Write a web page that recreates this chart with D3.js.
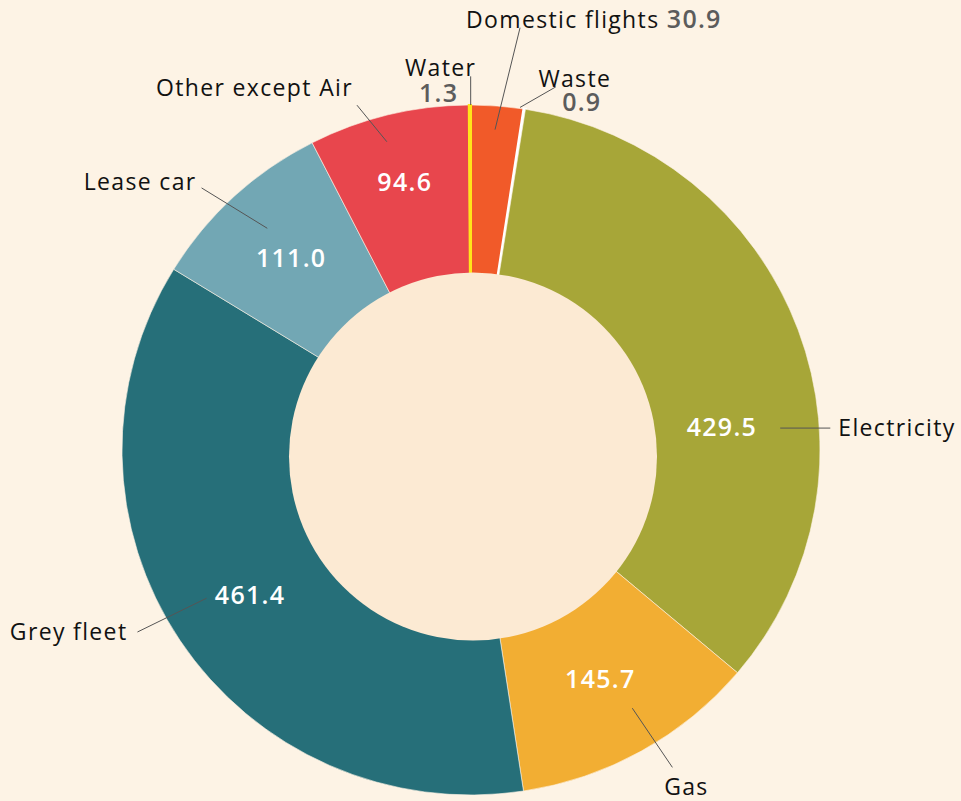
<!DOCTYPE html>
<html lang="en">
<head>
    <meta charset="UTF-8">
    <title>Emissions by source</title>
    <script src="https://d3js.org/d3.v7.min.js"></script>
    <style>
        html, body { margin: 0; padding: 0; background: #fdf3e5; }
        #chart { width: 961px; height: 801px; }
        .cat { font-family: "Open Sans", sans-serif; font-size: 23px; fill: #111; letter-spacing: 1.35px; }
        .val { font-family: "Open Sans", sans-serif; font-size: 25px; font-weight: 600; letter-spacing: 1.3px; }
    </style>
</head>
<body>
<div id="chart"></div>
<script>
// slices, clockwise from 12 o'clock
const categories = ["Domestic flights", "Waste", "Electricity", "Gas", "Grey fleet", "Lease car", "Other except Air", "Water"];
const values = [30.9, 0.9, 429.5, 145.7, 461.4, 111.0, 94.6, 1.3];
const valueLabels = ["30.9", "0.9", "429.5", "145.7", "461.4", "111.0", "94.6", "1.3"];
const colors = ["#f15a29", "#ffffff", "#a7a638", "#f2ae33", "#266f79", "#72a7b4", "#e8464d", "#ffe51a"];
const valueInside = [false, false, true, true, true, true, true, false];

const W = 961, H = 801;
const cx = 471, cy = 450, ky = 0.9885;   // ring is a touch squashed in the original
const outerR = 349, innerR = 170;

// leader lines in polar form (degrees clockwise from top), text offsets from the line end
const labelLayout = {
    "Domestic flights": { a1: 4.24, r1: 325, a2: 6.55, r2: 430, anchor: "start", dx: -54, dy: 0, valuePos: "inline" },
    "Waste":            { a1: 8.05, r1: 350, a2: 13.0, r2: 377, anchor: "middle", dx: 19, dy: 0, valuePos: "below", vdx: 26, vdy: 24 },
    "Electricity":      { a1: 85.9, r1: 310, a2: 86.45, r2: 360, flat: true, anchor: "start", dx: 8, dy: 8 },
    "Gas":              { a1: 148.3, r1: 307, a2: 147.9, r2: 379, anchor: "middle", dx: 14, dy: 28 },
    "Grey fleet":       { a1: 240.45, r1: 304, a2: 241.1, r2: 381, anchor: "end", dx: -10, dy: 8 },
    "Lease car":        { a1: 317.75, r1: 303, a2: 314.54, r2: 378, anchor: "end", dx: -5, dy: 2 },
    "Other except Air": { a1: 344.9, r1: 323, a2: 341.9, r2: 367, anchor: "end", dx: -4, dy: -9 },
    "Water":            { a1: 359.95, r1: 349, a2: 359.95, r2: 378, anchor: "middle", dx: -30, dy: 0, valuePos: "below", vdx: -32, vdy: 26 }
};
// where the inner value labels sit (radius, optional angle override)
const valueRadius = { "Electricity": 252, "Other except Air": 279 };
const valueAngle = { "Electricity": 84.7 };

const data = categories.map((c, i) => ({ category: c, value: values[i], label: valueLabels[i], color: colors[i], inside: valueInside[i] }));

const svg = d3.select("#chart").append("svg")
    .attr("width", W).attr("height", H);

svg.append("rect").attr("width", W).attr("height", H).attr("fill", "#fdf3e5");

function pol(aDeg, r) {
    const a = aDeg * Math.PI / 180;
    return [cx + r * Math.sin(a), cy - r * ky * Math.cos(a)];
}

const pie = d3.pie().sort(null).value(d => d.value);
const arcs = pie(data);
const arc = d3.arc().innerRadius(innerR).outerRadius(outerR);

// the two tiny slices get a stroke in their own colour so they stay visible
const tiny = { "Waste": 3, "Water": 2 };

svg.append("g")
    .attr("transform", `translate(${cx},${cy}) scale(1,${ky})`)
    .selectAll("path")
    .data(arcs)
    .enter().append("path")
    .attr("d", arc)
    .attr("fill", d => d.data.color)
    .attr("stroke", d => tiny[d.data.category] ? d.data.color : "#fdf3e5")
    .attr("stroke-width", d => tiny[d.data.category] || 0.6);

// hole, slightly off centre like the original
svg.append("circle")
    .attr("cx", 473).attr("cy", 456.5).attr("r", 184)
    .attr("fill", "#fcead3");

const deg = rad => rad * 180 / Math.PI;

// leader lines
const lines = svg.append("g");
const texts = svg.append("g");
arcs.forEach(d => {
    const L = labelLayout[d.data.category];
    const p1 = pol(L.a1, L.r1);
    let p2 = pol(L.a2, L.r2);
    if (L.flat) p2 = [p2[0], p1[1]];
    lines.append("line")
        .attr("x1", p1[0]).attr("y1", p1[1])
        .attr("x2", p2[0]).attr("y2", p2[1])
        .attr("stroke", "#555").attr("stroke-width", 1);

    const t = texts.append("text")
        .attr("class", "cat")
        .attr("x", p2[0] + L.dx).attr("y", p2[1] + L.dy)
        .attr("text-anchor", L.anchor)
        .text(d.data.category);

    if (!d.data.inside) {
        if (L.valuePos === "inline") {
            t.append("tspan").text(" ");
            t.append("tspan").attr("class", "val").attr("fill", "#5c5c5c").text(d.data.label);
        } else {
            texts.append("text")
                .attr("class", "val")
                .attr("fill", "#5c5c5c")
                .attr("x", p2[0] + L.vdx).attr("y", p2[1] + L.vdy)
                .attr("text-anchor", "middle")
                .text(d.data.label);
        }
    }
});

// values inside the ring
arcs.filter(d => d.data.inside).forEach(d => {
    const mid = deg((d.startAngle + d.endAngle) / 2);
    const a = valueAngle[d.data.category] !== undefined ? valueAngle[d.data.category] : mid;
    const r = valueRadius[d.data.category] || 265;
    const p = pol(a, r);
    texts.append("text")
        .attr("class", "val")
        .attr("fill", "#ffffff")
        .attr("x", p[0]).attr("y", p[1])
        .attr("dy", "0.36em")
        .attr("text-anchor", "middle")
        .text(d.data.label);
});
</script>
</body>
</html>
